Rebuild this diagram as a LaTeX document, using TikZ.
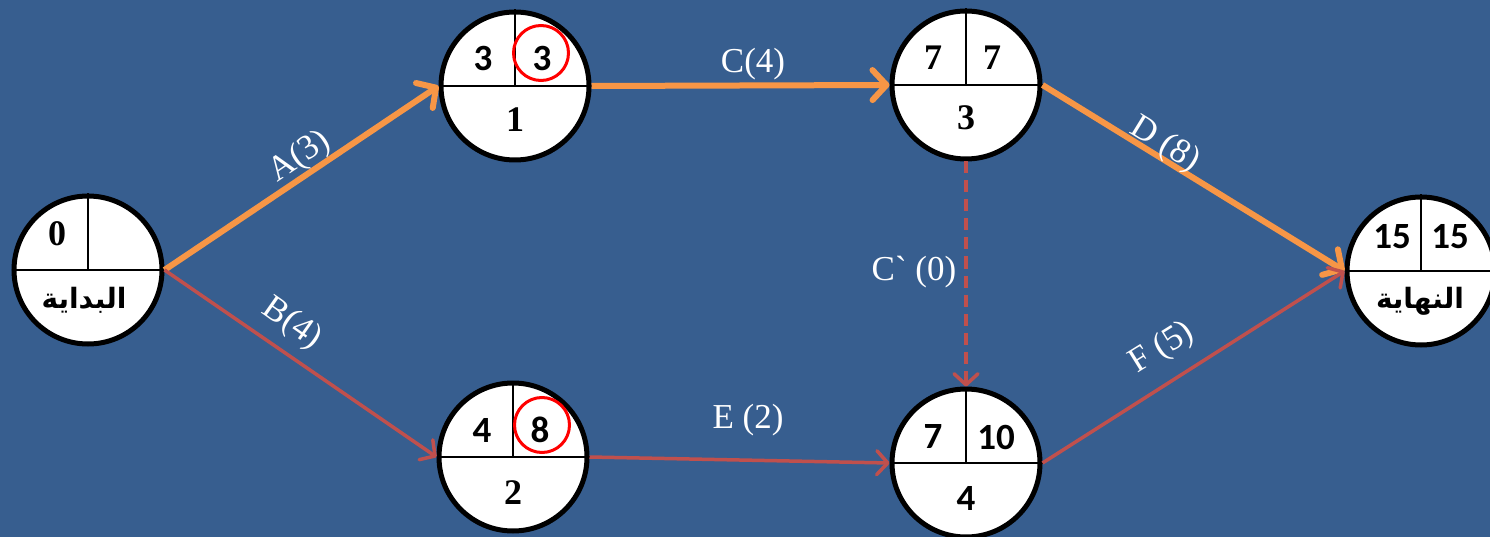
\documentclass[tikz,border=0pt]{standalone}
\usepackage{fontspec}
\setmainfont{Liberation Serif}
\newfontfamily\calfont{Carlito}
\newfontfamily\arabicfont[Script=Arabic]{DejaVu Sans}
\TeXXeTstate=1
\usetikzlibrary{arrows.meta}
\definecolor{bg}{RGB}{55,94,143}
\definecolor{crit}{HTML}{F79646}
\definecolor{noncrit}{HTML}{C0504D}
\begin{document}
\begin{tikzpicture}[x=1pt,y=-1pt,
  evt/.style={circle,draw=black,fill=white,line width=5pt,minimum size=148pt,inner sep=0pt},
  divline/.style={black,line width=2.5pt},
  numC/.style={font=\calfont\bfseries\fontsize{37}{40}\selectfont,inner sep=0pt},
  numT/.style={font=\bfseries\fontsize{36}{40}\selectfont,inner sep=0pt},
  arab/.style={font=\arabicfont\bfseries\fontsize{28}{32}\selectfont,inner sep=0pt},
  ring/.style={draw=red,line width=3pt,circle,minimum size=55pt,inner sep=0pt},
  lbl/.style={text=white,font=\fontsize{35}{40}\selectfont,inner sep=0pt},
  critarrow/.style={crit,line width=6pt,-{Straight Barb[length=14pt,width=30pt,round]}},
  normarrow/.style={noncrit,line width=3.5pt,-{Straight Barb[length=11pt,width=24pt,round]}},
  dummyarrow/.style={normarrow,dash pattern=on 12pt off 7pt}
]
\fill[bg] (0,0) rectangle (1490,537);
\useasboundingbox (0,0) rectangle (1490,537);

% events
\node[evt] (s) at (88,270) {};
\node[evt] (n1) at (515,86) {};
\node[evt] (n3) at (966,85) {};
\node[evt] (n2) at (513,457) {};
\node[evt] (n4) at (966,463) {};
\node[evt] (e) at (1421,271) {};

\foreach \n in {s,n1,n2,n3,n4,e}{
  \draw[divline] (\n.west) -- (\n.east);
  \draw[divline,line width=2pt] (\n.center) -- (\n.north);
}

% start
\node[numT] (s0) at ([shift={(-31,-36)}]s.center) {0};
\node[arab] (sname) at ([shift={(-4,30)}]s.center) {\beginR البداية\endR};
% node 1
\node[numC] (n1es) at ([shift={(-32,-28)}]n1.center) {3};
\node[numC] (n1lf) at ([shift={(27,-28)}]n1.center) {3};
\node[ring] (n1r) at ([shift={(26,-33)}]n1.center) {};
\node[numT] (n1id) at ([shift={(0,34)}]n1.center) {1};
% node 2
\node[numC] (n2es) at ([shift={(-31,-27)}]n2.center) {4};
\node[numC] (n2lf) at ([shift={(27,-27)}]n2.center) {8};
\node[ring] (n2r) at ([shift={(29,-32)}]n2.center) {};
\node[numT] (n2id) at ([shift={(0,36)}]n2.center) {2};
% node 3
\node[numT] (n3es) at ([shift={(-33,-27)}]n3.center) {7};
\node[numT] (n3lf) at ([shift={(26,-27)}]n3.center) {7};
\node[numT] (n3id) at ([shift={(0,33)}]n3.center) {3};
% node 4
\node[numC] (n4es) at ([shift={(-33,-26)}]n4.center) {7};
\node[numC] (n4lf) at ([shift={(30,-26)}]n4.center) {10};
\node[numC] (n4id) at ([shift={(0,35)}]n4.center) {4};
% end
\node[numC] (ees) at ([shift={(-29,-34)}]e.center) {15};
\node[numC] (elf) at ([shift={(29,-34)}]e.center) {15};
\node[arab] (ename) at ([shift={(-1,30)}]e.center) {\beginR النهاية\endR};

% activities
\draw[critarrow] (s.east) -- (n1.west);
\draw[normarrow] (s.east) -- (n2.west);
\draw[critarrow] (n1.east) -- (n3.west);
\draw[normarrow] (n2.east) -- (n4.west);
\draw[critarrow] (n3.east) -- (e.west);
\draw[normarrow] (n4.east) -- (e.west);
\draw[dummyarrow] (n3.south) -- (n4.north);

% labels
\node[lbl,rotate=34] (la) at (300,157) {A(3)};
\node[lbl,rotate=-35] (lb) at (292,324) {B(4)};
\node[lbl] (lc) at (753,64) {C(4)};
\node[lbl,rotate=-31.5] (ld) at (1165,145) {D (8)};
\node[lbl] (le) at (748,420) {E (2)};
\node[lbl,rotate=32] (lf) at (1162,348) {F (5)};
\node[lbl] (lcd) at (914,272) {C{\XeTeXglyph\XeTeXcharglyph"60 }\ (0)};
\end{tikzpicture}
\end{document}
